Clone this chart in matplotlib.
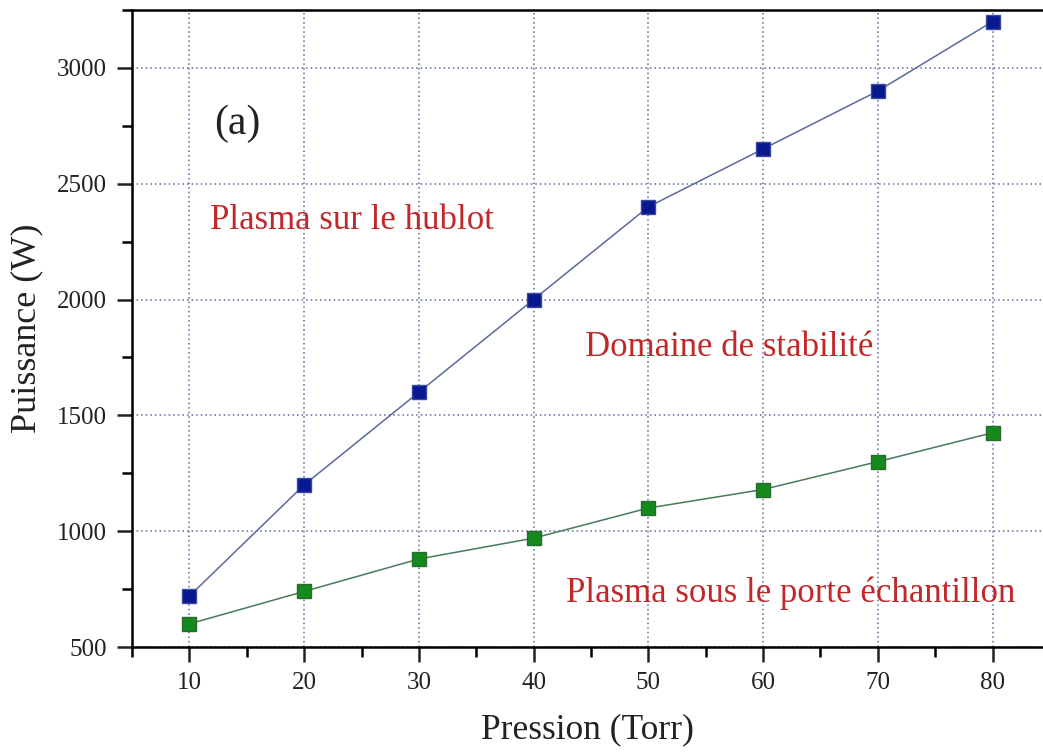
import matplotlib
matplotlib.use("Agg")
import matplotlib.pyplot as plt
from matplotlib.ticker import MultipleLocator

plt.rcParams['font.family'] = ['Liberation Serif', 'DejaVu Serif']

# data
pression = [10, 20, 30, 40, 50, 60, 70, 80]
p_hublot = [720, 1200, 1600, 2000, 2400, 2650, 2900, 3200]
p_porte = [600, 740, 880, 970, 1100, 1180, 1300, 1425]

fig = plt.figure(figsize=(10.43, 7.55), dpi=100)
ax = fig.add_axes([0.1266, 0.143, 0.8734, 0.8438])

ax.plot(pression, p_hublot, '-', color='#5a6a9a', lw=1.1, zorder=3)
ax.plot(pression, p_hublot, 's', ms=10.5, mfc='#0a1890', mec='#3a4aa0', mew=1, zorder=4)
ax.plot(pression, p_porte, '-', color='#4a7a5a', lw=1.1, zorder=3)
ax.plot(pression, p_porte, 's', ms=10.5, mfc='#148a1e', mec='#2a6a30', mew=1, zorder=4)

ax.set_xlim(5, 84.4)
ax.set_ylim(500, 3250)
ax.xaxis.set_major_locator(MultipleLocator(10))
ax.xaxis.set_minor_locator(MultipleLocator(5))
ax.yaxis.set_major_locator(MultipleLocator(500))
ax.yaxis.set_minor_locator(MultipleLocator(250))
ax.grid(True, which='major', ls=(0, (1, 2)), color='#5a6aa0', lw=1.1)
ax.tick_params(which='major', direction='out', length=11, width=1.8, labelsize=18,
               colors='#222222', pad=7)
ax.tick_params(which='minor', direction='out', length=7, width=1.8)
for s in ['left', 'bottom', 'top']:
    ax.spines[s].set_linewidth(1.8)
ax.spines['right'].set_visible(False)

ax.set_xlabel('Pression (Torr)', fontsize=25.5, labelpad=14, color='#222222')
ax.set_ylabel('Puissance (W)', fontsize=26, labelpad=10, color='#222222')

red = '#c0282a'
ax.text(14.2, 2760, '(a)', fontsize=30, ha='center', va='center', color='#222222')
ax.text(11.8, 2340, 'Plasma sur le hublot', fontsize=25, color=red, va='center')
ax.text(44.5, 1795, 'Domaine de stabilité', fontsize=25, color=red, va='center')
ax.text(42.8, 733, 'Plasma sous le porte échantillon', fontsize=25, color=red, va='center')

fig.savefig('out.png', dpi=100)
